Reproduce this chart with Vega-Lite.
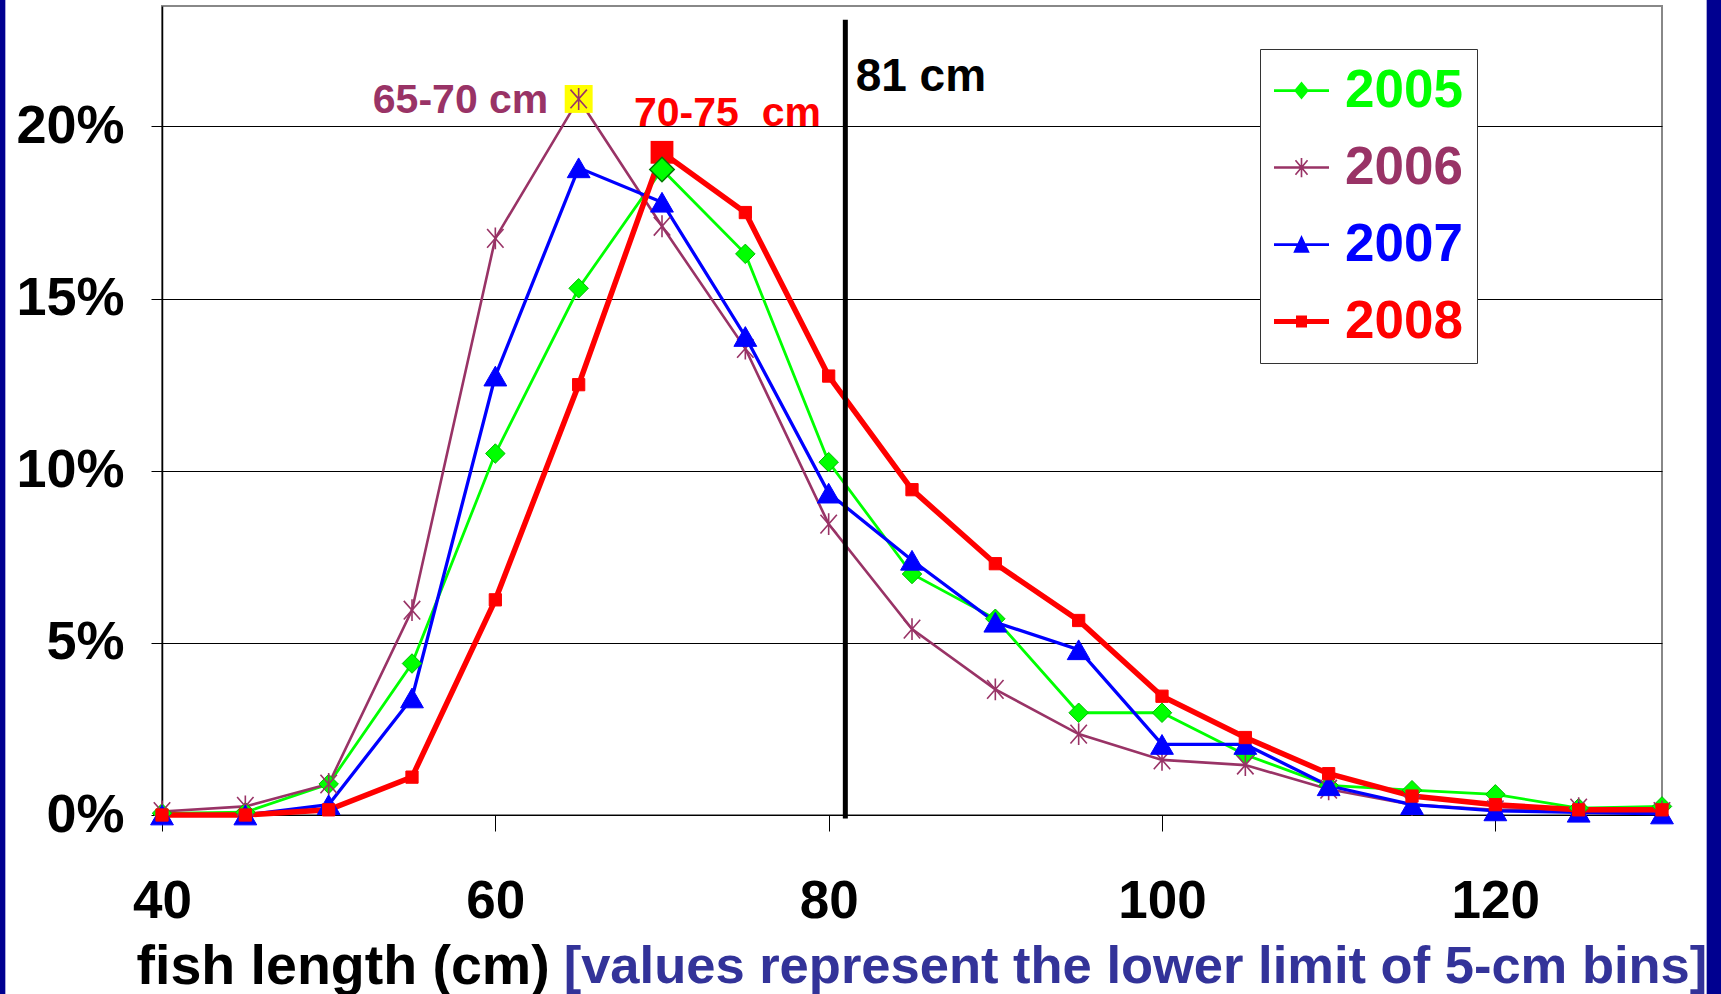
{
  "$schema": "https://vega.github.io/schema/vega-lite/v6.json",
  "width": 1500,
  "height": 809,
  "autosize": {"type": "none"},
  "padding": {"left": 162, "top": 6, "right": 59, "bottom": 179},
  "background": "white",
  "config": {
    "font": "Liberation Sans",
    "view": {"stroke": "#888888", "strokeWidth": 2},
    "axis": {"labelFont": "Liberation Sans", "titleFont": "Liberation Sans", "labelColor": "black", "titleColor": "black"}
  },
  "datasets": {
    "dist": [
      {"length": 40, "year": "2005", "pct": 0.05}, {"length": 45, "year": "2005", "pct": 0.08}, {"length": 50, "year": "2005", "pct": 0.9}, {"length": 55, "year": "2005", "pct": 4.4}, {"length": 60, "year": "2005", "pct": 10.5}, {"length": 65, "year": "2005", "pct": 15.3}, {"length": 70, "year": "2005", "pct": 18.75}, {"length": 75, "year": "2005", "pct": 16.3}, {"length": 80, "year": "2005", "pct": 10.25}, {"length": 85, "year": "2005", "pct": 7.0}, {"length": 90, "year": "2005", "pct": 5.7}, {"length": 95, "year": "2005", "pct": 2.97}, {"length": 100, "year": "2005", "pct": 2.97}, {"length": 105, "year": "2005", "pct": 1.75}, {"length": 110, "year": "2005", "pct": 0.86}, {"length": 115, "year": "2005", "pct": 0.72}, {"length": 120, "year": "2005", "pct": 0.6}, {"length": 125, "year": "2005", "pct": 0.2}, {"length": 130, "year": "2005", "pct": 0.25},
      {"length": 40, "year": "2006", "pct": 0.1}, {"length": 45, "year": "2006", "pct": 0.25}, {"length": 50, "year": "2006", "pct": 0.9}, {"length": 55, "year": "2006", "pct": 5.95}, {"length": 60, "year": "2006", "pct": 16.75}, {"length": 65, "year": "2006", "pct": 20.8}, {"length": 70, "year": "2006", "pct": 17.1}, {"length": 75, "year": "2006", "pct": 13.55}, {"length": 80, "year": "2006", "pct": 8.45}, {"length": 85, "year": "2006", "pct": 5.4}, {"length": 90, "year": "2006", "pct": 3.65}, {"length": 95, "year": "2006", "pct": 2.35}, {"length": 100, "year": "2006", "pct": 1.6}, {"length": 105, "year": "2006", "pct": 1.45}, {"length": 110, "year": "2006", "pct": 0.75}, {"length": 115, "year": "2006", "pct": 0.3}, {"length": 120, "year": "2006", "pct": 0.15}, {"length": 125, "year": "2006", "pct": 0.2}, {"length": 130, "year": "2006", "pct": 0.1},
      {"length": 40, "year": "2007", "pct": 0.0}, {"length": 45, "year": "2007", "pct": 0.0}, {"length": 50, "year": "2007", "pct": 0.3}, {"length": 55, "year": "2007", "pct": 3.4}, {"length": 60, "year": "2007", "pct": 12.75}, {"length": 65, "year": "2007", "pct": 18.8}, {"length": 70, "year": "2007", "pct": 17.8}, {"length": 75, "year": "2007", "pct": 13.9}, {"length": 80, "year": "2007", "pct": 9.35}, {"length": 85, "year": "2007", "pct": 7.4}, {"length": 90, "year": "2007", "pct": 5.6}, {"length": 95, "year": "2007", "pct": 4.8}, {"length": 100, "year": "2007", "pct": 2.05}, {"length": 105, "year": "2007", "pct": 2.05}, {"length": 110, "year": "2007", "pct": 0.85}, {"length": 115, "year": "2007", "pct": 0.3}, {"length": 120, "year": "2007", "pct": 0.12}, {"length": 125, "year": "2007", "pct": 0.08}, {"length": 130, "year": "2007", "pct": 0.03},
      {"length": 40, "year": "2008", "pct": 0.0}, {"length": 45, "year": "2008", "pct": 0.0}, {"length": 50, "year": "2008", "pct": 0.15}, {"length": 55, "year": "2008", "pct": 1.1}, {"length": 60, "year": "2008", "pct": 6.25}, {"length": 65, "year": "2008", "pct": 12.5}, {"length": 70, "year": "2008", "pct": 19.25}, {"length": 75, "year": "2008", "pct": 17.5}, {"length": 80, "year": "2008", "pct": 12.75}, {"length": 85, "year": "2008", "pct": 9.45}, {"length": 90, "year": "2008", "pct": 7.3}, {"length": 95, "year": "2008", "pct": 5.65}, {"length": 100, "year": "2008", "pct": 3.45}, {"length": 105, "year": "2008", "pct": 2.25}, {"length": 110, "year": "2008", "pct": 1.2}, {"length": 115, "year": "2008", "pct": 0.55}, {"length": 120, "year": "2008", "pct": 0.3}, {"length": 125, "year": "2008", "pct": 0.15}, {"length": 130, "year": "2008", "pct": 0.15}
    ]
  },
  "data": {"name": "dist"},
  "encoding": {
    "x": {
      "field": "length", "type": "quantitative",
      "scale": {"domain": [40, 130], "nice": false, "zero": false},
      "axis": {
        "values": [40, 60, 80, 100, 120], "grid": false,
        "tickSize": 16, "tickColor": "black", "tickWidth": 1,
        "domainColor": "black", "domainWidth": 1,
        "labelFontSize": 53, "labelFontWeight": "bold", "labelPadding": 44,
        "labelFlush": false, "labelOverlap": false, "labelBound": false,
        "title": "fish length (cm)", "titleFontSize": 55.5, "titleFontWeight": "bold",
        "titleAnchor": "start", "titleAlign": "left", "titleX": -26, "titleY": 168, "titleBaseline": "alphabetic"
      }
    },
    "y": {
      "field": "pct", "type": "quantitative",
      "scale": {"domain": [0, 23.5], "nice": false},
      "axis": {
        "values": [0, 5, 10, 15, 20], "labelExpr": "datum.value + '%'",
        "grid": true, "gridColor": "black", "gridWidth": 1, "gridOpacity": 1,
        "tickSize": 11, "tickColor": "black", "domainColor": "black", "domainWidth": 1.5,
        "labelFontSize": 54, "labelFontWeight": "bold", "labelPadding": 27,
        "labelOverlap": false, "labelBound": false, "title": null
      }
    }
  },
  "layer": [
    {
      "transform": [{"filter": "datum.year == '2005' && datum.length == 40"}],
      "mark": {"type": "rect", "color": "#000090", "clip": false},
      "encoding": {"x": {"datum": 30.1}, "x2": {"datum": 30.6}, "y": {"datum": 23.9}, "y2": {"datum": -5.5}}
    },
    {
      "transform": [{"filter": "datum.year == '2005' && datum.length == 40"}],
      "mark": {"type": "rect", "color": "#000090", "clip": false},
      "encoding": {"x": {"datum": 132.68}, "x2": {"datum": 133.7}, "y": {"datum": 23.9}, "y2": {"datum": -5.5}}
    },
    {"transform": [{"filter": "datum.year == '2005'"}], "mark": {"type": "line", "color": "#00FF00", "strokeWidth": 2.8}},
    {"transform": [{"filter": "datum.year == '2006'"}], "mark": {"type": "line", "color": "#993366", "strokeWidth": 2.6}},
    {"transform": [{"filter": "datum.year == '2007'"}], "mark": {"type": "line", "color": "#0000FF", "strokeWidth": 3.3}},
    {
      "transform": [{"filter": "datum.year == '2008'"}],
      "mark": {"type": "line", "strokeWidth": 5.5},
      "encoding": {
        "color": {
          "field": "year", "type": "nominal",
          "scale": {"domain": ["2005", "2006", "2007", "2008"], "range": ["#00FF00", "#993366", "#0000FF", "#FF0000"]},
          "legend": {
            "orient": "none", "legendX": 1098, "legendY": 43,
            "title": null, "strokeColor": "#333333", "fillColor": "white", "padding": 14,
            "symbolSize": 3025, "symbolOpacity": 1,
            "labelFont": "Liberation Sans", "labelFontWeight": "bold", "labelFontSize": 53,
            "labelOffset": 16, "rowPadding": 22,
            "encode": {
              "symbols": {"update": {
                "shape": {"signal": "datum.value == '2005' ? 'M-1,-0.05H1V0.05H-1Z M0,-0.33L0.27,0L0,0.33L-0.27,0Z' : datum.value == '2006' ? 'M-1,-0.045H1V0.045H-1Z M-0.03,-0.35H0.03V0.35H-0.03Z M-0.197,-0.279L0.243,0.241L0.197,0.279L-0.243,-0.241Z M0.243,-0.241L-0.197,0.279L-0.243,0.241L0.197,-0.279Z' : datum.value == '2007' ? 'M-1,-0.05H1V0.05H-1Z M0,-0.35L0.3,0.3L-0.3,0.3Z' : 'M-1,-0.09H1V0.09H-1Z M-0.2,-0.22H0.2V0.22H-0.2Z'"},
                "fill": {"scale": "color", "field": "value"},
                "stroke": {"value": "transparent"},
                "strokeWidth": {"value": 0},
                "opacity": {"value": 1}
              }},
              "labels": {"update": {"fill": {"scale": "color", "field": "value"}}}
            }
          }
        }
      }
    },
    {
      "transform": [{"filter": "datum.year == '2006' && datum.length == 65"}],
      "mark": {"type": "point", "shape": "square", "filled": true, "color": "#FFFF00", "size": 780, "opacity": 1}
    },
    {"transform": [{"filter": "datum.year == '2005'"}], "mark": {"type": "point", "shape": "diamond", "filled": true, "fill": "#00FF00", "stroke": "#00BB00", "strokeWidth": 1, "size": 380, "opacity": 1}},
    {"transform": [{"filter": "datum.year == '2006'"}], "mark": {"type": "point", "shape": "M-0.75,-0.85L0.75,0.85M0.75,-0.85L-0.75,0.85M0,-1L0,1", "filled": false, "stroke": "#993366", "strokeWidth": 1.6, "size": 480, "opacity": 1}},
    {"transform": [{"filter": "datum.year == '2007'"}], "mark": {"type": "point", "shape": "triangle-up", "filled": true, "fill": "#0000FF", "stroke": "#0000FF", "strokeWidth": 1, "size": 520, "opacity": 1}},
    {"transform": [{"filter": "datum.year == '2008'"}], "mark": {"type": "point", "shape": "square", "filled": true, "fill": "#FF0000", "stroke": "#FF0000", "strokeWidth": 1, "size": 150, "opacity": 1}},
    {
      "transform": [{"filter": "datum.year == '2008' && datum.length == 70"}],
      "mark": {"type": "point", "shape": "square", "filled": true, "color": "#FF0000", "size": 520, "opacity": 1}
    },
    {
      "transform": [{"filter": "datum.year == '2005' && datum.length == 70"}],
      "mark": {"type": "point", "shape": "diamond", "filled": true, "fill": "#00FF00", "stroke": "#007700", "strokeWidth": 1.5, "size": 600, "opacity": 1}
    },
    {
      "transform": [{"filter": "datum.year == '2005' && datum.length == 80"}],
      "mark": {"type": "rule", "color": "black", "strokeWidth": 5},
      "encoding": {"x": {"datum": 81}, "y": {"datum": 23.1}, "y2": {"datum": -0.1}}
    },
    {
      "transform": [{"filter": "datum.year == '2005' && datum.length == 80"}],
      "mark": {"type": "text", "text": "81 cm", "font": "Liberation Sans", "fontWeight": "bold", "fontSize": 46, "color": "black", "align": "left", "baseline": "alphabetic"},
      "encoding": {"x": {"datum": 81.62}, "y": {"datum": 21.04}}
    },
    {
      "transform": [{"filter": "datum.year == '2006' && datum.length == 65"}],
      "mark": {"type": "text", "text": "65-70 cm", "font": "Liberation Sans", "fontWeight": "bold", "fontSize": 41, "color": "#993366", "align": "right", "baseline": "alphabetic"},
      "encoding": {"x": {"datum": 63.18}, "y": {"datum": 20.4}}
    },
    {
      "transform": [{"filter": "datum.year == '2008' && datum.length == 70"}],
      "mark": {"type": "text", "text": "70-75\u00a0 cm", "font": "Liberation Sans", "fontWeight": "bold", "fontSize": 41, "color": "#FF0000", "align": "left", "baseline": "alphabetic"},
      "encoding": {"x": {"datum": 68.32}, "y": {"datum": 20.02}}
    },
    {
      "transform": [{"filter": "datum.year == '2005' && datum.length == 40"}],
      "mark": {"type": "text", "text": "[values represent the lower limit of 5-cm bins]", "font": "Liberation Sans", "fontWeight": "bold", "fontSize": 52.5, "color": "#333399", "align": "left", "baseline": "alphabetic", "clip": false},
      "encoding": {"x": {"datum": 64.1}, "y": {"datum": -4.87}}
    }
  ]
}
